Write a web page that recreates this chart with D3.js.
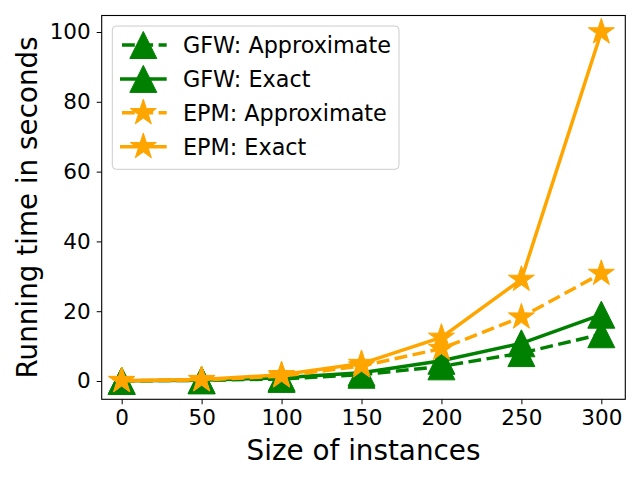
<!DOCTYPE html>
<html>
<head>
<meta charset="utf-8">
<script src="https://cdn.jsdelivr.net/npm/d3@7"></script>
<style>
body { margin: 0; background: #fff; }
text { font-family: "DejaVu Sans", sans-serif; }
</style>
</head>
<body>
<svg id="chart" width="640" height="480"></svg>
<script>
// sizes of the instances
var sizes = [0, 50, 100, 150, 200, 250, 300];

// running times in seconds
var gfwApprox = [0.05, 0.2, 0.6, 1.8, 4.2, 8.0, 13.4];
var gfwExact = [0.05, 0.25, 0.9, 2.4, 5.8, 10.8, 19.0];
var epmApprox = [0.1, 0.3, 1.4, 4.3, 9.3, 18.3, 30.8];
var epmExact = [0.1, 0.4, 1.8, 5.0, 12.5, 29.1, 100];

var xTicks = [0, 50, 100, 150, 200, 250, 300];
var yTicks = [0, 20, 40, 60, 80, 100];

var series = [
	{name: "GFW: Approximate", values: gfwApprox, color: "green", dashed: true, marker: "triangle"},
	{name: "GFW: Exact", values: gfwExact, color: "green", dashed: false, marker: "triangle"},
	{name: "EPM: Approximate", values: epmApprox, color: "orange", dashed: true, marker: "star"},
	{name: "EPM: Exact", values: epmExact, color: "orange", dashed: false, marker: "star"}
];

var plotL = 101.7, plotR = 625.3, plotT = 15.5, plotB = 399.3;

var svg = d3.select("#chart");

var x = d3.scaleLinear().domain([-12.5, 315]).range([plotL, plotR]);
var y = d3.scaleLinear().domain([-5.24, 104.73]).range([plotB, plotT]);

function markerPath(type){
	if(type == "triangle")
	{
		// matplotlib '^' : spans the marker size in both directions
		return "M0,-13.5 L-13.5,13.5 L13.5,13.5 Z";
	}
	return d3.symbol().type(d3.symbolStar).size(210)();
}

function styleAxis(g){
	g.select(".domain").remove();
	g.selectAll("text").attr("font-size", 21.5).attr("fill", "#000").attr("font-family", "DejaVu Sans");
	g.selectAll("line").attr("stroke", "#000");
}

// axes
svg.append("g")
	.attr("transform", "translate(0," + plotB + ")")
	.call(d3.axisBottom(x).tickValues(xTicks).tickSize(5).tickPadding(5))
	.call(styleAxis);

svg.append("g")
	.attr("transform", "translate(" + plotL + ",0)")
	.call(d3.axisLeft(y).tickValues(yTicks).tickSize(5).tickPadding(6))
	.call(styleAxis);

// series
var line = d3.line()
	.x(function(d, i){ return x(sizes[i]); })
	.y(function(d){ return y(d); });

var plot = svg.append("g");

series.forEach(function(s){
	plot.append("path")
		.attr("d", line(s.values))
		.attr("fill", "none")
		.attr("stroke", s.color)
		.attr("stroke-width", 3.5)
		.attr("stroke-dasharray", s.dashed ? "12.8,5.5" : null);
	plot.selectAll(null)
		.data(s.values)
		.enter()
		.append("path")
		.attr("d", markerPath(s.marker))
		.attr("transform", function(d, i){
			return "translate(" + x(sizes[i]) + "," + y(d) + ")";
		})
		.attr("fill", s.color)
		.attr("stroke", s.color)
		.attr("stroke-width", 1);
});

// frame
svg.append("rect")
	.attr("x", plotL).attr("y", plotT)
	.attr("width", plotR - plotL).attr("height", plotB - plotT)
	.attr("fill", "none").attr("stroke", "#000").attr("stroke-width", 1.1);

// legend
var legend = svg.append("g");
legend.append("rect")
	.attr("x", 112.3).attr("y", 26)
	.attr("width", 286.7).attr("height", 143.3)
	.attr("rx", 4).attr("ry", 4)
	.attr("fill", "#fff").attr("fill-opacity", 0.8)
	.attr("stroke", "#ccc").attr("stroke-width", 1);

series.forEach(function(s, i){
	var cy = 45 + i * 33.9;
	legend.append("line")
		.attr("x1", 120).attr("x2", 166.7)
		.attr("y1", cy).attr("y2", cy)
		.attr("stroke", s.color)
		.attr("stroke-width", 3.5)
		.attr("stroke-dasharray", s.dashed ? "12.8,5.5" : null)
		.attr("stroke-dashoffset", s.dashed ? -2 : null);
	legend.append("path")
		.attr("d", markerPath(s.marker))
		.attr("transform", "translate(143.3," + cy + ")")
		.attr("fill", s.color)
		.attr("stroke", s.color);
	legend.append("text")
		.attr("x", 183)
		.attr("y", cy)
		.attr("dy", "0.35em")
		.attr("font-size", 22.3)
		.text(s.name);
});

// axis labels
svg.append("text")
	.attr("x", (plotL + plotR) / 2)
	.attr("y", 460)
	.attr("text-anchor", "middle")
	.attr("font-size", 27.8)
	.text("Size of instances");

svg.append("text")
	.attr("transform", "translate(37," + ((plotT + plotB) / 2) + ") rotate(-90)")
	.attr("text-anchor", "middle")
	.attr("font-size", 27.8)
	.text("Running time in seconds");
</script>
</body>
</html>
